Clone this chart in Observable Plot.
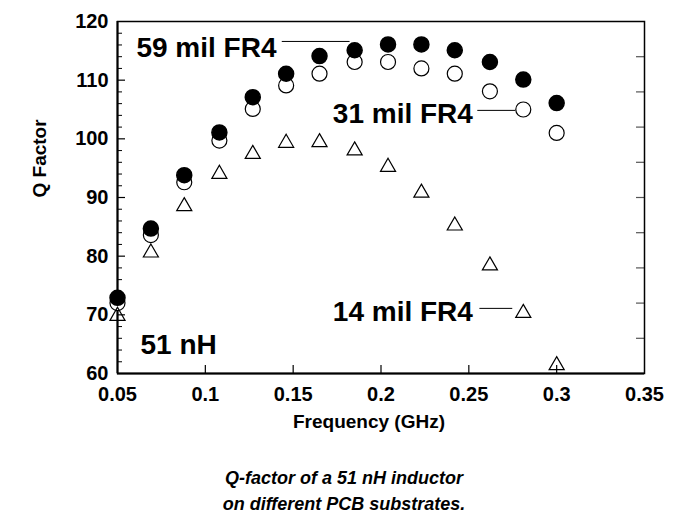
<!DOCTYPE html>
<html>
<head>
<meta charset="utf-8">
<script src="https://cdn.jsdelivr.net/npm/d3@7"></script>
<script src="https://cdn.jsdelivr.net/npm/@observablehq/plot@0.6"></script>
<style>
  html, body { margin: 0; padding: 0; background: #fff; }
</style>
</head>
<body>
<div id="chart"></div>
<script>
// ---- data ----
const freq = [0.05, 0.069, 0.088, 0.108, 0.127, 0.146, 0.165, 0.185, 0.204, 0.223, 0.242, 0.262, 0.281, 0.300];
const q59mil = [72.9, 84.7, 93.8, 101.1, 107.1, 111.1, 114.1, 115.1, 116.1, 116.1, 115.1, 113.1, 110.1, 106.1];
const q31mil = [72.0, 83.6, 92.6, 99.7, 105.1, 109.1, 111.1, 113.1, 113.1, 112.0, 111.1, 108.1, 105.0, 101.0];
const q14mil = [69.8, 80.6, 88.5, 94.0, 97.4, 99.3, 99.4, 98.0, 95.2, 90.8, 85.2, 78.4, 70.3, 61.4];

const xTicks = [0.05, 0.1, 0.15, 0.2, 0.25, 0.3, 0.35];
const yTicks = [60, 70, 80, 90, 100, 110, 120];
const yMinorTicks = [62, 64, 66, 68, 72, 74, 76, 78, 82, 84, 86, 88, 92, 94, 96, 98, 102, 104, 106, 108, 112, 114, 116, 118];
const yRightTicks = [66, 72, 78, 84, 90, 96, 102, 108, 114];

const seriesNames = ["59 mil FR4", "31 mil FR4", "14 mil FR4"];
const noteText = "51 nH";
const xTitle = "Frequency (GHz)";
const yTitle = "Q Factor";
const captionText = "Q-factor of a 51 nH inductor\non different PCB substrates.";

// ---- annotation placement (data coordinates) ----
const labelAt = [
  {x: 0.1405, y: 115.4},
  {x: 0.2523, y: 104.3},
  {x: 0.2523, y: 70.4}
];
const leaderAt = [
  {x1: 0.1438, x2: 0.1824, y: 116.6},
  {x1: 0.2551, x2: 0.2767, y: 104.85},
  {x1: 0.2563, x2: 0.2750, y: 71.1}
];
const noteAt = {x: 0.0631, y: 64.8};

const rows = (vals) => freq.map((f, i) => ({f, q: vals[i]}));
const labels = seriesNames.map((name, i) => ({name, ...labelAt[i]}));

const W = 687, H = 516;
const mTop = 21, mRight = 43, mBottom = 143, mLeft = 117;
const innerW = W - mLeft - mRight, innerH = H - mTop - mBottom;
const font = "'Liberation Sans', Arial, Helvetica, sans-serif";

const chart = Plot.plot({
  width: W,
  height: H,
  marginTop: mTop,
  marginRight: mRight,
  marginBottom: mBottom,
  marginLeft: mLeft,
  x: {domain: [0.05, 0.35]},
  y: {domain: [60, 120]},
  style: {fontFamily: font, fontWeight: "bold", fontSize: "20px", background: "#fff", color: "#000"},
  marks: [
    // inward tick marks
    Plot.ruleX(xTicks.slice(1, -1), {x: d => d, insetTop: innerH - 8, stroke: "#000", strokeWidth: 1.2}),
    Plot.ruleY(yTicks.slice(1, -1), {y: d => d, insetRight: innerW - 8, stroke: "#000", strokeWidth: 1.2}),
    Plot.ruleY(yMinorTicks, {y: d => d, insetRight: innerW - 5, stroke: "#000", strokeWidth: 1}),
    Plot.ruleY(yRightTicks, {y: d => d, insetLeft: innerW - 8, stroke: "#555", strokeWidth: 1.2}),
    // frame
    Plot.frame({stroke: "#000", strokeWidth: 1.5}),
    Plot.ruleX([0.05], {stroke: "#000", strokeWidth: 2}),
    Plot.ruleY([60], {stroke: "#000", strokeWidth: 2}),
    // axes labels
    Plot.axisX(xTicks, {tickSize: 0, tickPadding: 13, tickFormat: d => String(d), fontSize: 20, fontWeight: "bold", label: null}),
    Plot.axisY(yTicks, {tickSize: 0, tickPadding: 9, tickFormat: d => String(d), fontSize: 20, fontWeight: "bold", label: null}),
    // data
    Plot.dot(rows(q31mil), {x: "f", y: "q", r: 7.5, fill: "#fff", stroke: "#000", strokeWidth: 1.2}),
    Plot.dot(rows(q14mil), {x: "f", y: "q", symbol: "triangle", r: 5.6, fill: "none", stroke: "#000", strokeWidth: 1.2}),
    Plot.dot(rows(q59mil), {x: "f", y: "q", r: 7.5, fill: "#000", stroke: "#000"}),
    // leader lines & series labels
    Plot.ruleY(leaderAt, {y: "y", x1: "x1", x2: "x2", stroke: "#000", strokeWidth: 1}),
    Plot.text(labels, {x: "x", y: "y", text: "name", textAnchor: "end", lineAnchor: "middle", fontSize: 28, fontWeight: "bold", fill: "#000"}),
    Plot.text([noteAt], {x: "x", y: "y", text: () => noteText, textAnchor: "start", lineAnchor: "middle", fontSize: 28, fontWeight: "bold", fill: "#000"}),
    // axis titles
    Plot.text([xTitle], {text: d => d, frameAnchor: "bottom", lineAnchor: "middle", dy: 48, dx: -12, fontSize: 19, fontWeight: "bold", fill: "#000"}),
    Plot.text([yTitle], {text: d => d, frameAnchor: "left", rotate: -90, lineAnchor: "middle", dx: -78, fontSize: 19, fontWeight: "bold", fill: "#000"}),
    // caption
    Plot.text([captionText], {text: d => d, frameAnchor: "bottom", lineAnchor: "middle", lineHeight: 1.4, dy: 115.5, dx: -37, fontSize: 18, fontWeight: "bold", fontStyle: "italic", fill: "#000"})
  ]
});
document.getElementById("chart").appendChild(chart);
</script>
</body>
</html>
